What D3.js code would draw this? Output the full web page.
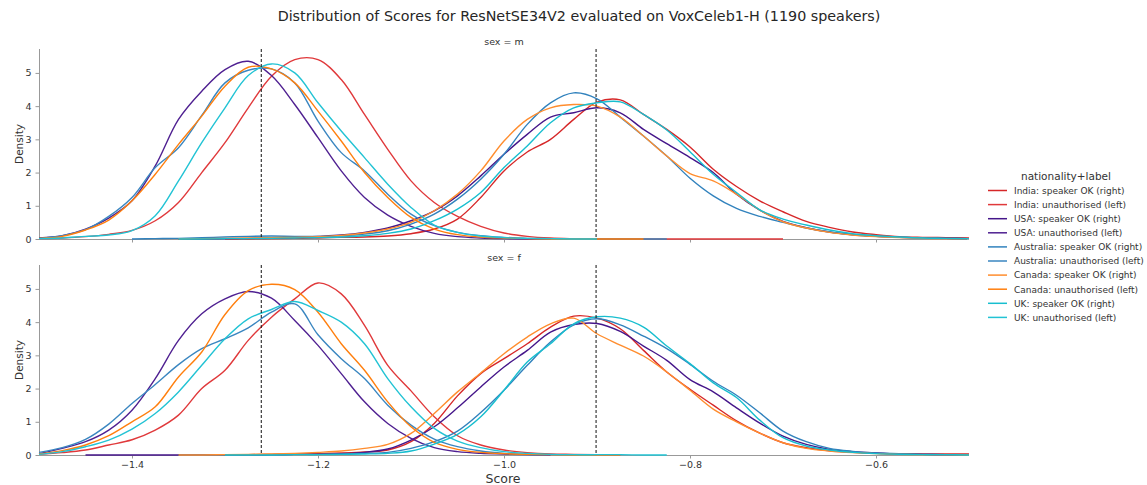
<!DOCTYPE html>
<html>
<head>
<meta charset="utf-8">
<script src="https://cdn.jsdelivr.net/npm/d3@7"></script>
<style>
  body { margin: 0; background: #fff; }
  svg { font-family: "DejaVu Sans", sans-serif; }
</style>
</head>
<body>
<svg id="chart" width="1147" height="485"></svg>
<script>
// Score grid shared by all density curves
var scores = [-1.5, -1.475, -1.45, -1.425, -1.4, -1.375, -1.35, -1.325, -1.3, -1.275,
  -1.25, -1.225, -1.2, -1.175, -1.15, -1.125, -1.1, -1.075, -1.05, -1.025,
  -1.0, -0.975, -0.95, -0.925, -0.9, -0.875, -0.85, -0.825, -0.8, -0.775,
  -0.75, -0.725, -0.7, -0.675, -0.65, -0.625, -0.6, -0.575, -0.55, -0.525, -0.5];

var seriesLabels = ["India: speaker OK (right)", "India: unauthorised (left)",
  "USA: speaker OK (right)", "USA: unauthorised (left)",
  "Australia: speaker OK (right)", "Australia: unauthorised (left)",
  "Canada: speaker OK (right)", "Canada: unauthorised (left)",
  "UK: speaker OK (right)", "UK: unauthorised (left)"];

var panels = ["m", "f"];
var thresholds = [-1.261, -0.901];
var xTicks = [-1.4, -1.2, -1.0, -0.8, -0.6];
var yTicks = [0, 1, 2, 3, 4, 5];

var n = null;

// sex = m
var indiaOkM = [n,n,n,n,n,n,n,n,0,0,0.01,0.02,0.03,0.05,0.06,0.09,0.16,0.3,0.6,1.25,2.05,2.62,3.0,3.6,4.12,4.19,3.75,3.3,2.77,2.1,1.58,1.15,0.82,0.53,0.35,0.21,0.13,0.07,0.05,0.04,0.03];
var indiaUnauthM = [0.01,0.03,0.07,0.14,0.26,0.55,1.1,2.0,2.9,3.95,4.9,5.4,5.4,4.8,3.75,2.7,1.75,1.1,0.68,0.38,0.18,0.08,0.03,0.01,0,0,0,0,0,0,0,0,0,n,n,n,n,n,n,n,n];
var usaOkM = [n,n,n,n,n,n,0,0,0.01,0.02,0.03,0.05,0.08,0.12,0.2,0.33,0.55,0.85,1.3,1.9,2.55,3.15,3.67,3.8,3.95,3.8,3.3,2.87,2.45,2.0,1.35,0.87,0.53,0.34,0.21,0.13,0.08,0.05,0.03,0.02,0.01];
var usaUnauthM = [0.03,0.1,0.3,0.63,1.15,2.2,3.6,4.45,5.1,5.35,4.92,4.05,3.05,2.05,1.25,0.72,0.38,0.17,0.07,0.03,0.01,0,0,n,n,n,n,n,n,n,n,n,n,n,n,n,n,n,n,n,n];
var ausOkM = [n,n,n,n,0,0.01,0.02,0.04,0.06,0.08,0.09,0.08,0.08,0.1,0.15,0.25,0.45,0.75,1.2,1.8,2.55,3.45,4.1,4.4,4.22,3.67,3.1,2.5,1.83,1.3,0.92,0.68,0.5,0.33,0.21,0.13,0.08,0.05,0.03,0.02,0.01];
var ausUnauthM = [0.02,0.1,0.28,0.68,1.25,2.15,2.75,3.72,4.7,5.08,5.12,4.7,3.55,2.6,2.05,1.35,0.75,0.4,0.2,0.1,0.05,0.02,0.01,0,0,0,0,0,n,n,n,n,n,n,n,n,n,n,n,n,n];
var canOkM = [n,n,n,n,n,n,0,0.01,0.02,0.03,0.04,0.05,0.07,0.11,0.18,0.3,0.5,0.85,1.35,2.05,2.95,3.6,3.95,4.05,4.0,3.67,3.1,2.5,1.97,1.75,1.35,0.87,0.52,0.33,0.2,0.12,0.07,0.04,0.02,0.01,0.01];
var canUnauthM = [0.02,0.08,0.27,0.57,1.15,1.95,2.85,3.7,4.6,5.17,5.12,4.7,3.85,2.95,2.0,1.25,0.65,0.3,0.13,0.06,0.03,0.01,0,0,0,0,0,n,n,n,n,n,n,n,n,n,n,n,n,n,n];
var ukOkM = [n,n,n,n,n,n,0,0,0.01,0.01,0.02,0.03,0.04,0.06,0.1,0.17,0.3,0.55,0.9,1.4,2.15,2.8,3.5,3.95,4.1,4.13,3.75,3.28,2.63,1.95,1.4,0.88,0.6,0.42,0.27,0.16,0.1,0.06,0.03,0.02,0.01];
var ukUnauthM = [0.01,0.03,0.08,0.12,0.25,0.7,1.75,2.9,3.95,4.92,5.27,5.0,4.1,3.25,2.45,1.65,0.95,0.42,0.2,0.09,0.04,0.02,0.01,0,0,n,n,n,n,n,n,n,n,n,n,n,n,n,n,n,n];

// sex = f
var indiaOkF = [n,n,n,n,n,n,0,0,0.01,0.01,0.02,0.03,0.04,0.06,0.09,0.15,0.4,0.95,1.78,2.45,2.9,3.35,3.85,4.18,4.12,3.8,3.15,2.5,1.98,1.5,1.03,0.66,0.37,0.22,0.13,0.08,0.05,0.04,0.03,0.03,0.03];
var indiaUnauthF = [0.02,0.07,0.15,0.3,0.46,0.75,1.2,2.0,2.55,3.45,4.15,4.7,5.18,4.85,3.9,2.7,1.93,1.15,0.58,0.3,0.15,0.07,0.03,0.02,0.01,0,n,n,n,n,n,n,n,n,n,n,n,n,n,n,n];
var usaOkF = [n,n,0,0,0,0,0,0.01,0.01,0.01,0.01,0.02,0.02,0.04,0.08,0.18,0.45,0.85,1.42,2.05,2.65,3.15,3.7,3.93,3.96,3.72,3.28,2.85,2.27,1.9,1.42,0.96,0.57,0.32,0.17,0.1,0.06,0.03,0.02,0.01,0.01];
var usaUnauthF = [0.04,0.2,0.4,0.75,1.35,2.3,3.45,4.25,4.7,4.92,4.72,4.05,3.3,2.45,1.6,0.95,0.5,0.22,0.1,0.05,0.03,0.01,0,n,n,n,n,n,n,n,n,n,n,n,n,n,n,n,n,n,n];
var ausOkF = [n,n,n,n,n,n,0,0,0,0.01,0.01,0.02,0.02,0.03,0.05,0.08,0.2,0.4,0.72,1.28,1.95,2.7,3.4,3.92,4.1,3.92,3.58,3.2,2.73,2.22,1.8,1.27,0.72,0.4,0.2,0.11,0.06,0.04,0.02,0.01,0.01];
var ausUnauthF = [0.08,0.22,0.47,0.93,1.55,2.12,2.72,3.2,3.5,3.83,4.3,4.55,3.62,2.9,2.3,1.5,0.9,0.48,0.25,0.12,0.05,0.02,0.01,0,0,n,n,n,n,n,n,n,n,n,n,n,n,n,n,n,n];
var canOkF = [n,n,n,n,n,n,0,0,0.01,0.02,0.03,0.05,0.08,0.12,0.2,0.32,0.65,1.25,1.9,2.47,3.05,3.55,3.95,4.12,3.65,3.31,2.98,2.5,1.95,1.38,1.0,0.66,0.37,0.2,0.12,0.07,0.04,0.02,0.01,0.01,0];
var canUnauthF = [0.03,0.13,0.3,0.58,1.0,1.45,2.35,3.1,4.23,4.95,5.14,4.98,4.3,3.35,2.55,1.6,0.85,0.38,0.17,0.08,0.04,0.02,0.01,0,0,0,n,n,n,n,n,n,n,n,n,n,n,n,n,n,n];
var ukOkF = [n,n,n,n,n,n,n,n,0,0,0,0.01,0.01,0.02,0.03,0.05,0.12,0.33,0.62,1.15,1.95,2.8,3.35,3.95,4.16,4.12,3.85,3.28,2.75,2.17,1.73,1.05,0.52,0.27,0.15,0.08,0.04,0.02,0.01,0.01,0];
var ukUnauthF = [0.02,0.1,0.25,0.45,0.78,1.25,1.9,2.7,3.5,4.1,4.38,4.62,4.35,4.0,3.35,2.3,1.45,0.8,0.42,0.22,0.1,0.05,0.02,0.01,0.01,0.01,0,0,n,n,n,n,n,n,n,n,n,n,n,n,n];

var densitiesM = [indiaOkM, indiaUnauthM, usaOkM, usaUnauthM, ausOkM, ausUnauthM, canOkM, canUnauthM, ukOkM, ukUnauthM];
var densitiesF = [indiaOkF, indiaUnauthF, usaOkF, usaUnauthF, ausOkF, ausUnauthF, canOkF, canUnauthF, ukOkF, ukUnauthF];

var colors = ["#d62728", "#e0393b", "#45168a", "#4f2091", "#3182bd", "#3a86c0",
  "#ff8d2e", "#ff7f0e", "#17becf", "#22c3d4"];

var svg = d3.select("#chart");

// Scales
var x = d3.scaleLinear().domain([-1.5, -0.5]).range([39, 969]);
var panelTops = [49, 265];
var panelH = 190;

svg.append("text")
  .attr("x", 579).attr("y", 21)
  .attr("text-anchor", "middle")
  .style("font-size", "14.3px")
  .style("fill", "#262626")
  .text("Distribution of Scores for ResNetSE34V2 evaluated on VoxCeleb1-H (1190 speakers)");

panels.forEach(function(sex, pi) {
  var top = panelTops[pi];
  var y = d3.scaleLinear().domain([0, 5.72]).range([top + panelH, top]);
  var g = svg.append("g");
  var data = pi == 0 ? densitiesM : densitiesF;

  // Panel title
  g.append("text")
    .attr("x", 504).attr("y", top - 4)
    .attr("text-anchor", "middle")
    .style("font-size", "9.5px")
    .style("fill", "#333")
    .text("sex = " + sex);

  // Y axis
  var yAxis = g.append("g")
    .attr("transform", "translate(39,0)")
    .call(d3.axisLeft(y).tickValues(yTicks).tickSize(3.5).tickPadding(4).tickFormat(d3.format("d")));
  yAxis.select(".domain").attr("stroke", "#999").attr("d", "M0.5," + (top) + "V" + (top + panelH));
  yAxis.selectAll(".tick line").attr("stroke", "#999");
  yAxis.selectAll(".tick text").style("font-size", "9.5px").style("fill", "#333").style("font-family", "DejaVu Sans");

  // X axis
  var xAxis = g.append("g")
    .attr("transform", "translate(0," + (top + panelH) + ")")
    .call(d3.axisBottom(x).tickValues(xTicks).tickSize(3.5).tickPadding(3)
      .tickFormat(pi == 1 ? d3.format(".1f") : ""));
  xAxis.select(".domain").attr("stroke", "#999").attr("d", "M39,0.5H967");
  xAxis.selectAll(".tick line").attr("stroke", "#999");
  xAxis.selectAll(".tick text").style("font-size", "9.5px").style("fill", "#333").style("font-family", "DejaVu Sans");

  // Y label
  g.append("text")
    .attr("transform", "translate(23," + (top + panelH / 2) + ") rotate(-90)")
    .attr("text-anchor", "middle")
    .style("font-size", "10.5px")
    .style("fill", "#333")
    .text("Density");

  // Density curves
  var line = d3.line()
    .defined(function(d) { return d[1] != null; })
    .x(function(d) { return x(d[0]); })
    .y(function(d) { return y(d[1]); })
    .curve(d3.curveCatmullRom.alpha(0.5));

  data.forEach(function(vals, si) {
    g.append("path")
      .datum(scores.map(function(s, i) { return [s, vals[i]]; }))
      .attr("fill", "none")
      .attr("stroke", colors[si])
      .attr("stroke-width", 1.4)
      .attr("d", line);
  });

  // Threshold lines
  thresholds.forEach(function(t) {
    g.append("line")
      .attr("x1", x(t)).attr("x2", x(t))
      .attr("y1", top).attr("y2", top + panelH)
      .attr("stroke", "#111")
      .attr("stroke-width", 1)
      .attr("stroke-dasharray", "3,2");
  });
});

// X label
svg.append("text")
  .attr("x", 503).attr("y", 483)
  .attr("text-anchor", "middle")
  .style("font-size", "12.5px")
  .style("fill", "#333")
  .text("Score");

// Legend
var legend = svg.append("g");
legend.append("text")
  .attr("x", 1066).attr("y", 180)
  .attr("text-anchor", "middle")
  .style("font-size", "10.5px")
  .style("fill", "#333")
  .text("nationality+label");

seriesLabels.forEach(function(lab, i) {
  var ly = 190.5 + i * 14.1;
  legend.append("line")
    .attr("x1", 988).attr("x2", 1007)
    .attr("y1", ly).attr("y2", ly)
    .attr("stroke", colors[i]).attr("stroke-width", 1.5);
  legend.append("text")
    .attr("x", 1014).attr("y", ly + 3.3)
    .style("font-size", "9px")
    .style("fill", "#333")
    .text(lab);
});
</script>
</body>
</html>
